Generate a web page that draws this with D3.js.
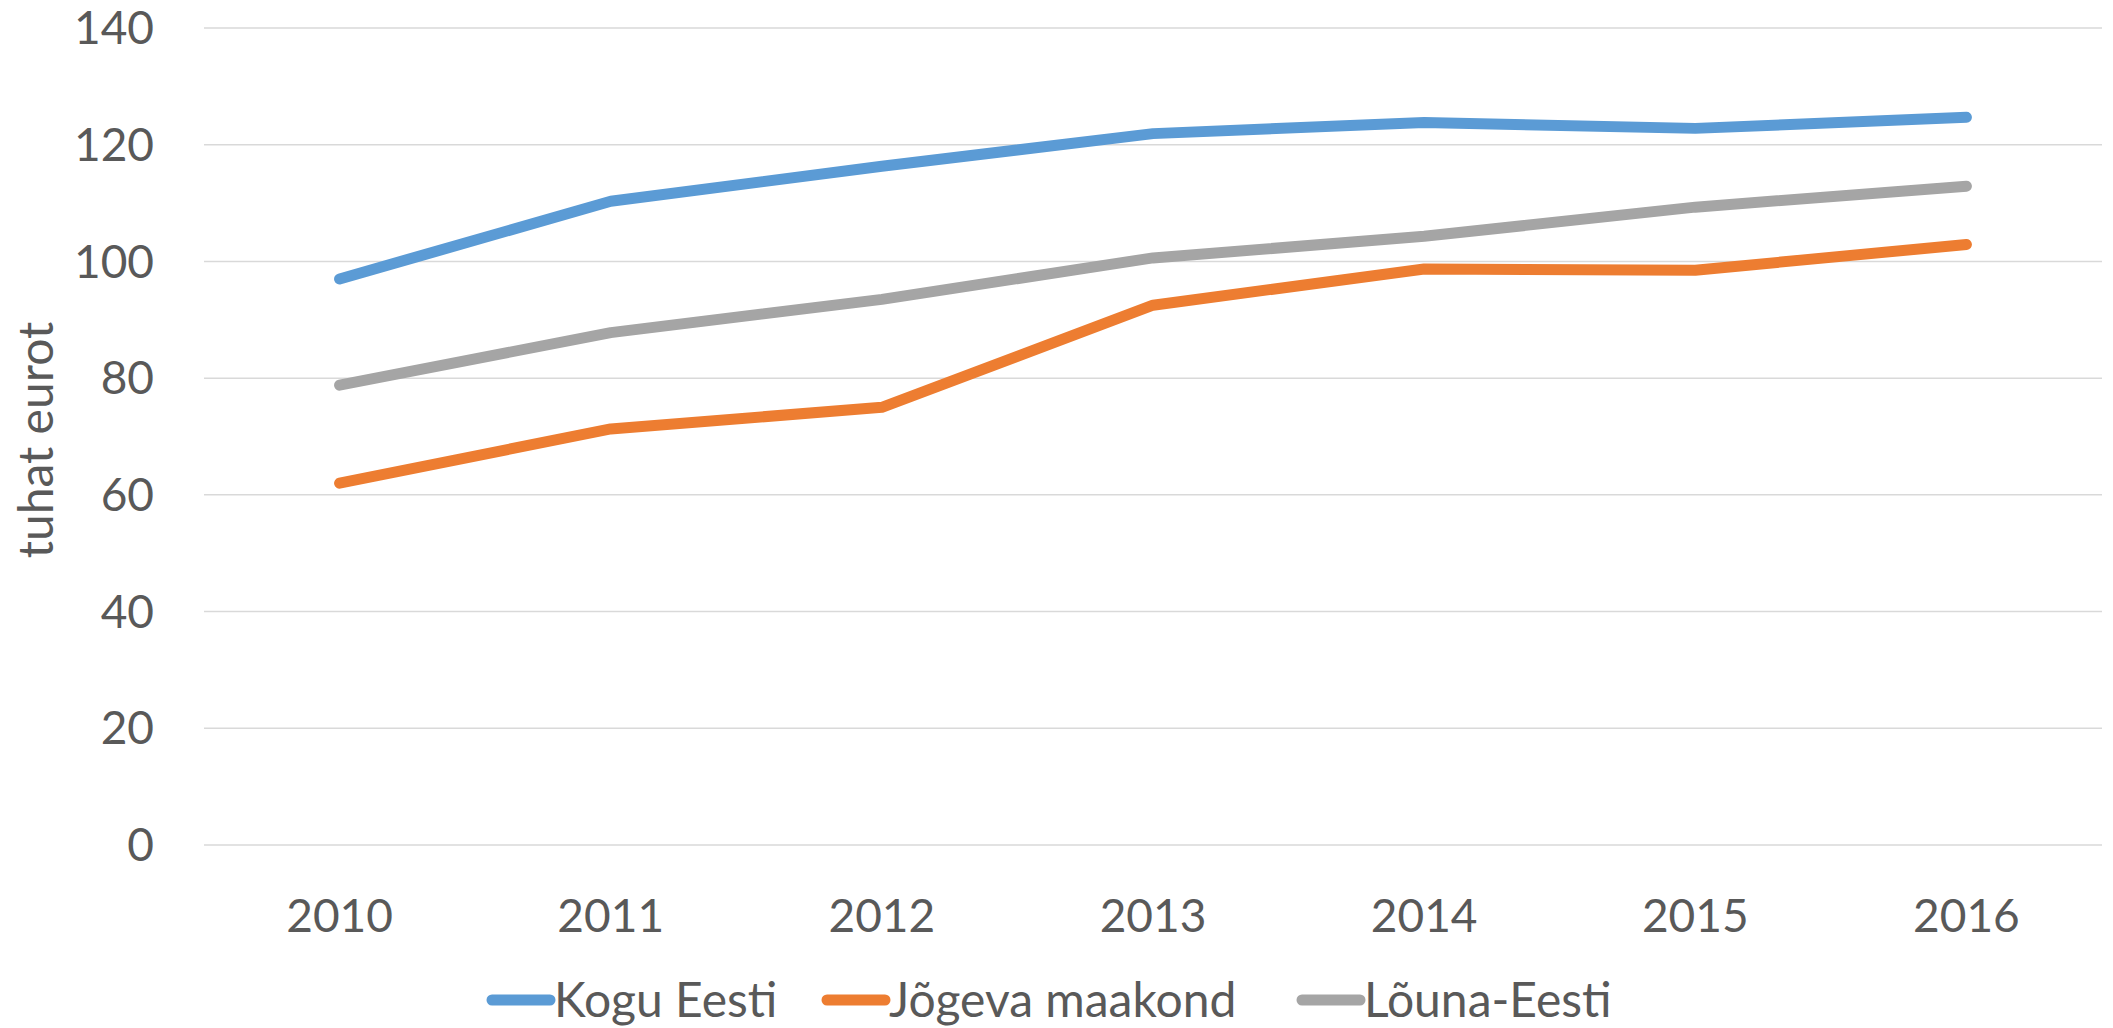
<!DOCTYPE html>
<html>
<head>
<meta charset="utf-8">
<script src="https://cdnjs.cloudflare.com/ajax/libs/d3/7.8.5/d3.min.js"></script>
<style>
body { margin: 0; background: #fff; }
text { font-family: Lato, "Open Sans", sans-serif; fill: #595959; }
</style>
</head>
<body>
<svg id="chart"></svg>
<script>
const years = ['2010', '2011', '2012', '2013', '2014', '2015', '2016'];
const koguEesti = [97.0, 110.3, 116.3, 121.9, 123.8, 122.8, 124.7];
const jogevaMaakond = [62.0, 71.3, 75.0, 92.5, 98.7, 98.5, 102.9];
const lounaEesti = [78.8, 87.8, 93.5, 100.6, 104.3, 109.3, 112.9];
const seriesNames = ['Kogu Eesti', 'Jõgeva maakond', 'Lõuna-Eesti'];
const yTicks = [0, 20, 40, 60, 80, 100, 120, 140];

const colors = ['#5B9BD5', '#ED7D31', '#A5A5A5'];
const series = [koguEesti, jogevaMaakond, lounaEesti].map((values, i) => ({
  name: seriesNames[i], color: colors[i], values
}));

const width = 2113, height = 1028;
const margin = { top: 28, right: 11, bottom: 183, left: 204 };

const svg = d3.select('#chart')
  .attr('width', width)
  .attr('height', height);

const x = d3.scaleBand()
  .domain(years)
  .range([margin.left, width - margin.right]);

const y = d3.scaleLinear()
  .domain([0, 140])
  .range([height - margin.bottom, margin.top]);

// gridlines
svg.append('g')
  .selectAll('line')
  .data(yTicks)
  .join('line')
  .attr('x1', margin.left)
  .attr('x2', width - margin.right)
  .attr('y1', d => y(d))
  .attr('y2', d => y(d))
  .attr('stroke', '#d9d9d9')
  .attr('stroke-width', 1.5);

// y labels
svg.append('g')
  .selectAll('text')
  .data(yTicks)
  .join('text')
  .attr('x', 154)
  .attr('y', d => y(d))
  .attr('dy', '0.35em')
  .attr('text-anchor', 'end')
  .attr('font-size', 46)
  .text(d => d);

// x labels
svg.append('g')
  .selectAll('text')
  .data(years)
  .join('text')
  .attr('x', d => x(d) + x.bandwidth() / 2)
  .attr('y', 916)
  .attr('dy', '0.35em')
  .attr('text-anchor', 'middle')
  .attr('font-size', 46)
  .text(d => d);

// axis title
svg.append('text')
  .attr('transform', 'translate(53,440) rotate(-90)')
  .attr('text-anchor', 'middle')
  .attr('font-size', 48)
  .text('tuhat eurot');

const line = d3.line()
  .x((d, i) => x(years[i]) + x.bandwidth() / 2)
  .y(d => y(d));

svg.append('g')
  .selectAll('path')
  .data(series)
  .join('path')
  .attr('d', d => line(d.values))
  .attr('fill', 'none')
  .attr('stroke', d => d.color)
  .attr('stroke-width', 11)
  .attr('stroke-linecap', 'round')
  .attr('stroke-linejoin', 'round');

// legend
const legendX = [492, 827, 1302];
const legend = svg.append('g')
  .selectAll('g')
  .data(series)
  .join('g')
  .attr('transform', (d, i) => `translate(${legendX[i]},1000)`);

legend.append('line')
  .attr('x1', 0).attr('x2', 58)
  .attr('stroke', d => d.color)
  .attr('stroke-width', 11)
  .attr('stroke-linecap', 'round');

legend.append('text')
  .attr('x', 62)
  .attr('dy', '0.35em')
  .attr('font-size', 48)
  .text(d => d.name);
</script>
</body>
</html>
